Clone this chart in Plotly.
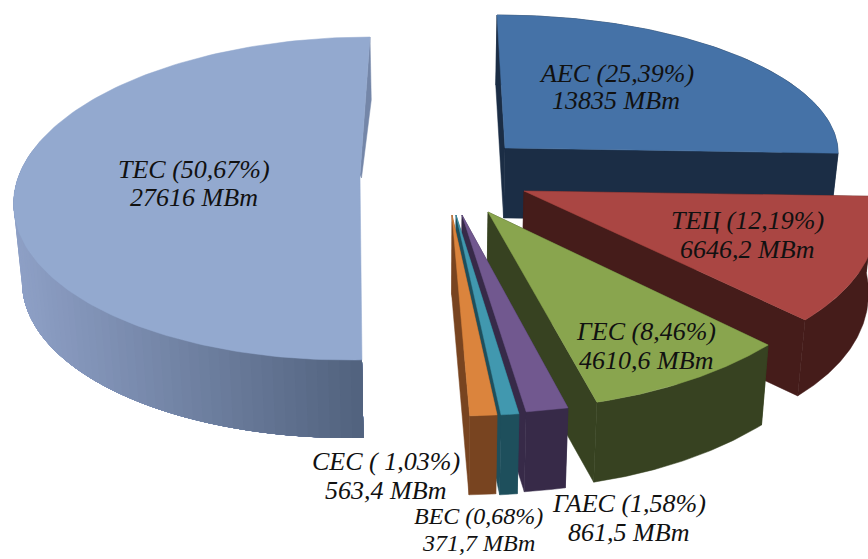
import math
import plotly.graph_objects as go

# ---- data ----
names = ["АЕС", "ТЕЦ", "ГЕС", "ГАЕС", "ВЕС", "СЕС", "ТЕС"]
power_mw = [13835, 6646.2, 4610.6, 861.5, 371.7, 563.4, 27616]
percent_labels = ["25,39%", "12,19%", "8,46%", "1,58%", "0,68%", " 1,03%", "50,67%"]
power_labels = ["13835", "6646,2", "4610,6", "861,5", "371,7", "563,4", "27616"]

# ---- styling: per-slice drawing parameters (in page pixels) ----
face_colors = ["#4572A7", "#AA4643", "#89A54E", "#71588F", "#4198AF", "#DB843D", "#93A9CF"]
wall_colors = ["#1B2D45", "#451C1A", "#374221", "#372A48", "#1E4F5C", "#784420", "#5F6F8C"]
geom = [
    dict(ax=505, ay=148, cx=505, cy=150, rx=333, ry=135, s=-8, d=70),
    dict(ax=524, ay=191, cx=524, cy=192, rx=350, ry=180, s=-49, d=76),
    dict(ax=488, ay=212, cx=488, cy=188, rx=383, ry=221, s=-15, d=80),
    dict(ax=462, ay=215, cx=462, cy=215, rx=430, ry=199, s=0, d=80),
    dict(ax=456, ay=215, cx=456, cy=215, rx=422, ry=201, s=0, d=80),
    dict(ax=452, ay=215, cx=452, cy=215, rx=422, ry=201, s=0, d=79),
    dict(ax=360, ay=175, cx=358.75, cy=198.5, rx=345, ry=161.5, s=11.25, d=78),
]
label_xy = [(616, 73, 100), (747, 220, 249), (646, 331, 360), (629, 503, 532),
            (478, 516, 543), (386, 461, 490), (194, 169, 197)]
label_sizes = [26, 26, 26, 26, 24, 26, 26]
TAPER = 0.02
MID_X = 434

total = sum(power_mw)
edges = [0.0]
for v in power_mw:
    edges.append(edges[-1] + v / total * 2 * math.pi)


def outer(g, t):
    return (g["cx"] + g["rx"] * math.sin(t) + g["s"] * math.cos(t),
            g["cy"] - g["ry"] * math.cos(t))


def drop(pt, d):
    return (pt[0] - TAPER * (pt[0] - MID_X), pt[1] + d)


def arc(g, t0, t1, n=80):
    return [outer(g, t0 + (t1 - t0) * i / n) for i in range(n + 1)]


fig = go.Figure()


def poly(pts, color, lw=0.5):
    xs = [p[0] for p in pts] + [pts[0][0]]
    ys = [p[1] for p in pts] + [pts[0][1]]
    fig.add_trace(go.Scatter(x=xs, y=ys, mode="lines", fill="toself", fillcolor=color,
                             line=dict(color=color, width=lw), hoverinfo="skip",
                             showlegend=False))


def mix(c0, c1, f):
    return "rgb(%d,%d,%d)" % tuple(round(a + (b - a) * f) for a, b in zip(c0, c1))


def draw_slice(i):
    g = geom[i]
    t0, t1 = edges[i], edges[i + 1]
    apex = (g["ax"], g["ay"])
    d = g["d"]
    if i == 6:
        # outer wall: painted from the far left inwards, each layer covering the rest
        steps = 60
        t_end = t0 + (t1 - t0) * 0.62
        for k in range(steps, 0, -1):
            b = t0 + (t_end - t0) * k / steps
            seg = arc(g, t0, b, 60)
            low = [drop(p, d) for p in reversed(seg)]
            f = min(max((seg[-1][0] - 13) / 350, 0), 1)
            poly(seg + low, mix((142, 160, 198), (80, 97, 124), f), 0)
        # thin sliver of the inner wall, seen at the upper right of the big slice
        out = outer(g, t1)
        poly([out, apex, drop(apex, 3), drop(out, 63)], "#7486A8")
    else:
        out0, out1 = outer(g, t0), outer(g, t1)
        poly([out0, apex, drop(apex, d), drop(out0, d)], wall_colors[i])
        seg = arc(g, t0, t1)
        poly(seg + [drop(p, d) for p in reversed(seg)], wall_colors[i])
        poly([out1, apex, drop(apex, d), drop(out1, d)], wall_colors[i])
    poly([apex] + arc(g, t0, t1, 160), face_colors[i])


for i in [6, 0, 1, 2, 3, 4, 5]:
    draw_slice(i)

for i, (x, y1, y2) in enumerate(label_xy):
    line1 = f"<i>{names[i]} ({percent_labels[i]})</i>"
    line2 = f"<i>{power_labels[i]} МВт</i>"
    for y, text in ((y1, line1), (y2, line2)):
        fig.add_annotation(x=x, y=y, text=text, showarrow=False,
                           font=dict(family="Liberation Serif", size=label_sizes[i], color="#111111"),
                           xanchor="center", yanchor="middle")

fig.update_layout(
    width=868, height=559, autosize=False,
    margin=dict(l=0, r=0, t=0, b=0),
    paper_bgcolor="white", plot_bgcolor="white", showlegend=False,
    xaxis=dict(range=[0, 868], visible=False, fixedrange=True),
    yaxis=dict(range=[559, 0], visible=False, fixedrange=True),
)
fig.write_html("out.html", config={"displayModeBar": False},
               post_script="document.body.style.margin='0';document.body.style.overflow='hidden';")
